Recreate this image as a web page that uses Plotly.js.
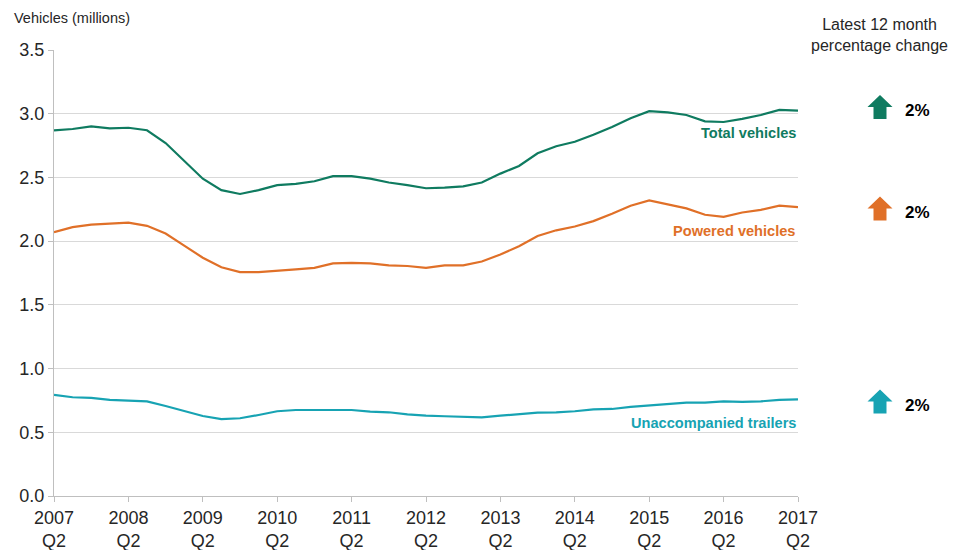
<!DOCTYPE html>
<html>
<head>
<meta charset="utf-8">
<script src="https://cdn.plot.ly/plotly-3.0.1.min.js"></script>
<style>html,body{margin:0;padding:0;background:#fff;}#chart{width:960px;height:550px;}</style>
</head>
<body>
<div id="chart"></div>
<script>
// ---- data ----
const years = [2007, 2008, 2009, 2010, 2011, 2012, 2013, 2014, 2015, 2016, 2017];
const quarterNames = ['Q2', 'Q3', 'Q4', 'Q1'];
const totalVehicles = [2.87, 2.88, 2.90, 2.885, 2.89, 2.87, 2.77, 2.63, 2.49, 2.40, 2.37, 2.40, 2.44, 2.45, 2.47, 2.51, 2.51, 2.49, 2.46, 2.44, 2.415, 2.42, 2.43, 2.46, 2.53, 2.59, 2.69, 2.745, 2.78, 2.835, 2.895, 2.965, 3.02, 3.01, 2.99, 2.94, 2.935, 2.96, 2.99, 3.03, 3.025];
const poweredVehicles = [2.07, 2.11, 2.13, 2.135, 2.145, 2.12, 2.06, 1.965, 1.87, 1.795, 1.757, 1.757, 1.77, 1.778, 1.79, 1.825, 1.83, 1.825, 1.81, 1.805, 1.79, 1.81, 1.81, 1.84, 1.895, 1.96, 2.04, 2.085, 2.115, 2.157, 2.215, 2.278, 2.32, 2.29, 2.257, 2.207, 2.19, 2.225, 2.246, 2.278, 2.267];
const unaccompaniedTrailers = [0.793, 0.775, 0.77, 0.754, 0.748, 0.743, 0.706, 0.665, 0.628, 0.604, 0.61, 0.636, 0.665, 0.675, 0.675, 0.68, 0.675, 0.662, 0.657, 0.641, 0.63, 0.626, 0.622, 0.617, 0.63, 0.644, 0.654, 0.657, 0.665, 0.68, 0.683, 0.699, 0.709, 0.72, 0.732, 0.732, 0.743, 0.738, 0.743, 0.754, 0.759];
const seriesNames = ['Total vehicles', 'Powered vehicles', 'Unaccompanied trailers'];
const seriesChanges = ['2%', '2%', '2%'];
const tickLabels = years.map(y => y + '<br>Q2');

// quarter categories 2007 Q2 ... 2017 Q2
const quarters = [];
for (let i = 0; i < totalVehicles.length; i++) {
  const yr = years[0] + Math.floor((i + 1) / 4);
  quarters.push(yr + ' ' + quarterNames[i % 4]);
}
const xIdx = quarters.map((q, i) => i);

// ---- styles ----
const colors = ['#0f7b60', '#e07028', '#17a3b3'];
const W = 960, H = 550, L = 54, R = 162, T = 50, B = 54;
const pw = W - L - R, ph = H - T - B;
const px = x => (x - L) / pw;
const py = y => (H - B - y) / ph;

const data = [totalVehicles, poweredVehicles, unaccompaniedTrailers].map((vals, k) => ({
  x: xIdx, y: vals, type: 'scatter', mode: 'lines', name: seriesNames[k],
  text: quarters, line: {color: colors[k], width: 2.2}, hoverinfo: 'text+y'
}));

const labelY = [2.845, 2.08, 0.573];
const arrowY = [106.5, 208, 401]; // pixel centres of arrows
const annotations = [
  {xref: 'paper', yref: 'paper', x: px(12), y: py(18), xanchor: 'left', yanchor: 'middle', showarrow: false,
   text: 'Vehicles (millions)', font: {size: 14.5, color: '#262626'}},
  {xref: 'paper', yref: 'paper', x: px(880), y: py(35), xanchor: 'center', yanchor: 'middle', showarrow: false,
   text: 'Latest 12 month<br>percentage change', font: {size: 16, color: '#262626'}}
];
seriesNames.forEach((n, k) => {
  annotations.push({xref: 'paper', yref: 'y', x: 1, y: labelY[k], xanchor: 'right', yanchor: 'middle', showarrow: false,
    text: '<b>' + n + '</b>', font: {size: 14.6, color: colors[k]}});
  annotations.push({xref: 'paper', yref: 'paper', x: px(903), y: py(arrowY[k] + 4), xanchor: 'left', yanchor: 'middle', showarrow: false,
    text: '<b>' + seriesChanges[k] + '</b>', font: {size: 17, color: '#000'}});
});

const shapes = arrowY.map((cy, k) => {
  const top = cy - 11.5, mid = cy + 0.5, bot = cy + 12.5;
  const pts = [[880, top], [892.5, mid], [886.5, mid], [886.5, bot], [873.5, bot], [873.5, mid], [867.5, mid]];
  const d = 'M ' + pts.map(p => px(p[0]).toFixed(5) + ',' + py(p[1]).toFixed(5)).join(' L ') + ' Z';
  return {type: 'path', xref: 'paper', yref: 'paper', path: d, fillcolor: colors[k], line: {width: 0}};
});

const layout = {
  width: W, height: H,
  margin: {l: L, r: R, t: T, b: B, pad: 0},
  paper_bgcolor: '#fff', plot_bgcolor: '#fff',
  showlegend: false,
  font: {family: '"Liberation Sans", Arial, sans-serif', color: '#262626'},
  xaxis: {
    range: [0, 40], tickvals: years.map((y, i) => i * 4), ticktext: tickLabels,
    showgrid: false, zeroline: false, showline: true, linecolor: '#bfbfbf', linewidth: 1,
    ticks: 'outside', ticklen: 5, tickcolor: '#bfbfbf', tickfont: {size: 18, color: '#262626'}
  },
  yaxis: {
    range: [0, 3.5], dtick: 0.5, tick0: 0, tickformat: '.1f',
    showgrid: true, gridcolor: '#d9d9d9', gridwidth: 1, zeroline: false,
    showline: true, linecolor: '#bfbfbf', linewidth: 1,
    ticks: 'outside', ticklen: 5, tickcolor: '#bfbfbf', tickfont: {size: 18, color: '#262626'}
  },
  annotations: annotations,
  shapes: shapes
};

Plotly.newPlot('chart', data, layout, {displayModeBar: false, staticPlot: true});
</script>
</body>
</html>
